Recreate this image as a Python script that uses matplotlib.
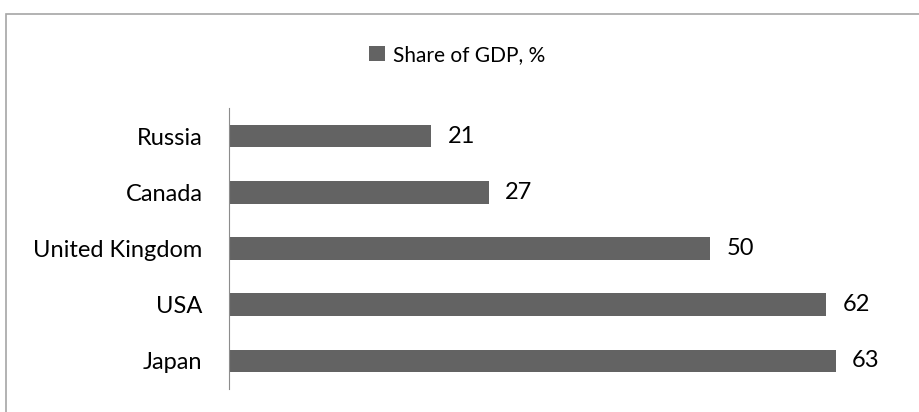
import matplotlib.pyplot as plt
from matplotlib.patches import Rectangle

countries = ["Japan", "USA", "United Kingdom", "Canada", "Russia"]
share = [63, 62, 50, 27, 21]
series_name = "Share of GDP, %"

plt.rcParams['font.family'] = ['Lato', 'DejaVu Sans']

fig = plt.figure(figsize=(9.19, 4.12), dpi=100)
ax = fig.add_axes([229 / 919, 1 - 389 / 412, 674 / 919, 281 / 412])

# chart border
fig.patches.append(Rectangle((6 / 919, -0.05), 1.0, 1 - 14 / 412 + 0.05,
                             transform=fig.transFigure, fill=False,
                             edgecolor='#a6a6a6', linewidth=1.2))

bars = ax.barh(range(len(countries)), share, height=0.4, color='#636363',
               label=series_name)
for i, v in enumerate(share):
    ax.text(v + 1.7, i, str(v), va='center', ha='left', fontsize=17)

ax.set_xlim(0, 70)
ax.set_ylim(-0.5, len(countries) - 0.5)
ax.set_yticks(range(len(countries)))
ax.set_yticklabels(countries, fontsize=17)
ax.tick_params(axis='y', length=0, pad=19)
ax.set_xticks([])
for s in ['top', 'right', 'bottom']:
    ax.spines[s].set_visible(False)
ax.spines['left'].set_color('#8c8c8c')

fig.legend(handles=[bars], labels=[series_name], loc='center',
           bbox_to_anchor=(457 / 919, 1 - 55 / 412), frameon=False,
           fontsize=15, handlelength=0.75, handleheight=0.75, handletextpad=0.4)

fig.savefig("out.png", dpi=100)
